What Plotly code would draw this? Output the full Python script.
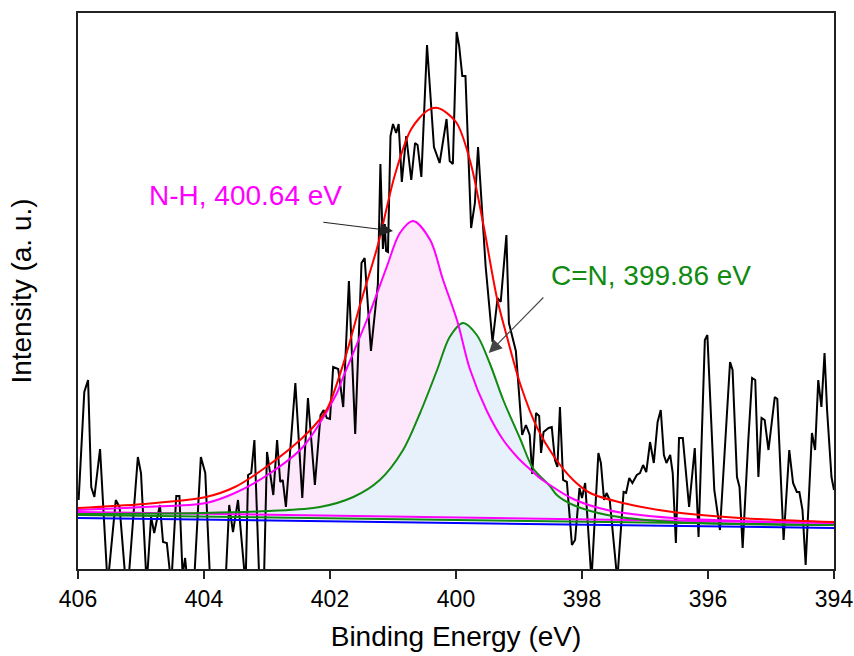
import plotly.graph_objects as go

# ---------------- data ----------------
raw_e = [405.99, 405.90, 405.84, 405.79, 405.74, 405.65, 405.53, 405.40, 405.34, 405.24,
         405.21, 405.05, 405.00, 404.91, 404.84, 404.79, 404.70, 404.65, 404.59, 404.52,
         404.44, 404.39, 404.34, 404.30, 404.25, 404.16, 404.05, 403.98, 403.90, 403.79,
         403.66, 403.60, 403.54, 403.46, 403.34, 403.30, 403.25, 403.20, 403.12, 403.05,
         403.00, 402.90, 402.84, 402.79, 402.75, 402.70, 402.55, 402.44, 402.35, 402.24,
         402.15, 402.10, 402.05, 402.00, 401.95, 401.87, 401.79, 401.70, 401.60, 401.50,
         401.45, 401.35, 401.24, 401.20, 401.16, 401.13, 401.11, 401.08, 401.04, 401.00,
         400.95, 400.91, 400.86, 400.79, 400.71, 400.65, 400.61, 400.55, 400.46, 400.35,
         400.26, 400.15, 400.10, 400.05, 399.99, 399.95, 399.90, 399.85, 399.76, 399.70,
         399.65, 399.53, 399.42, 399.34, 399.29, 399.20, 399.16, 399.05, 398.95, 398.89,
         398.83, 398.79, 398.73, 398.68, 398.65, 398.61, 398.53, 398.48, 398.43, 398.39,
         398.35, 398.30, 398.24, 398.16, 398.11, 398.04, 398.00, 397.95, 397.85, 397.74,
         397.70, 397.65, 397.61, 397.56, 397.44, 397.34, 397.30, 397.25, 397.20, 397.13,
         397.08, 397.03, 396.98, 396.92, 396.86, 396.80, 396.75, 396.70, 396.66, 396.60,
         396.56, 396.51, 396.46, 396.40, 396.30, 396.21, 396.15, 396.05, 396.01, 395.90,
         395.81, 395.65, 395.61, 395.54, 395.50, 395.45, 395.36, 395.30, 395.25, 395.20,
         395.15, 395.10, 395.04, 394.94, 394.90, 394.80, 394.71, 394.65, 394.59, 394.55,
         394.50, 394.45, 394.35, 394.30, 394.25, 394.20, 394.15, 394.11, 394.04, 394.00]
raw_i = [69, 177, 189, 82, 72, 120, -16, 69, 62, -16,
         -21, 112, 96, -16, 52, 36, 64, 27, 26, -16,
         73, 73, -6, 11, -21, -16, 112, 96, -16, -26,
         -16, 64, 37, 69, -16, 94, 96, 129, -16, -16,
         117, 74, 129, 87, 89, 62, 186, 71, 171, 84,
         154, 159, 151, 150, 202, 200, 162, 288, 135, 306,
         311, 218, 285, 405, 320, 345, 318, 317, 433, 445,
         436, 445, 387, 433, 389, 426, 424, 392, 524, 422,
         406, 450, 408, 405, 537, 523, 493, 493, 341, 366,
         422, 303, 227, 271, 267, 334, 246, 218, 134, 144,
         134, 95, 156, 153, 116, 137, 141, 142, 109, 102,
         162, 89, 87, 24, 29, 81, 71, 86, -11, 116,
         106, 69, 76, 69, -11, 77, 76, 91, 86, 94,
         96, 104, 97, 127, 106, 147, 159, 114, 106, 114,
         96, 26, 131, 131, 62, 121, 32, 229, 234, 79,
         39, 207, 199, 92, 82, 21, 129, 191, 189, 92,
         151, 149, 119, 172, 170, 29, 119, 86, 77, 77,
         59, 4, 136, 119, 189, 162, 216, 159, 92, 79]

env_e = [406.00, 404.97, 403.97, 403.51, 402.97, 402.44, 402.17, 402.03, 401.76, 401.51,
         401.24, 400.97, 400.71, 400.44, 400.29, 400.00, 399.78, 399.57, 399.35, 399.19,
         398.97, 398.71, 398.44, 398.14, 397.87, 397.35, 396.56, 395.49, 394.00]
env_i = [61, 65, 72, 82, 104, 131, 149, 162, 211, 267,
         324, 394, 440, 459, 461, 447, 409, 346, 271, 232,
         183, 141, 112, 89, 76, 66, 57, 51, 47]

nh_e = [406.00, 404.97, 403.97, 403.51, 402.97, 402.43, 401.89, 401.81, 401.37, 401.10,
        400.89, 400.68, 400.41, 400.21, 399.98, 399.78, 399.51, 399.25, 399.00, 398.83,
        398.67, 398.51, 398.14, 397.60, 396.56, 394.00]
nh_i = [59, 62, 66, 76, 95, 122, 176, 189, 256, 302,
        336, 348, 329, 290, 248, 200, 158, 129, 110, 100,
        91, 84, 70, 59, 51, 46]

cn_e = [406.00, 404.03, 402.97, 402.16, 401.63, 401.21, 400.84, 400.57, 400.30, 400.10,
        399.89, 399.67, 399.46, 399.25, 398.98, 398.78, 398.51, 398.40, 398.14, 397.60,
        396.56, 394.00]
cn_i = [55, 56, 58, 62, 72, 89, 119, 156, 199, 232,
        246, 234, 205, 169, 130, 101, 83, 74, 64, 54,
        47, 44]

base_e = [406.0, 394.0]
bg_i = [51, 41]        # blue background
nh_base_i = [57, 46]   # N-H component baseline
cn_base_i = [54, 44]   # C=N component baseline

tick_vals = [406, 404, 402, 400, 398, 396, 394]
tick_text = ["406", "404", "402", "400", "398", "396", "394"]

nh_label = "N-H, 400.64 eV"
cn_label = "C=N, 399.86 eV"

# ---------------- figure ----------------
FONT = "Arial, 'Liberation Sans', sans-serif"
MAG = "#ff00ff"
GRN = "#108a10"
SM = 0.9

fig = go.Figure()

# fills (drawn first, no lines)
fig.add_trace(go.Scatter(x=base_e, y=nh_base_i, mode="lines", line=dict(width=0),
                         showlegend=False, hoverinfo="skip"))
fig.add_trace(go.Scatter(x=nh_e, y=nh_i, mode="lines", line=dict(width=0, shape="spline", smoothing=SM),
                         fill="tonexty", fillcolor="#fde8fb", showlegend=False, hoverinfo="skip"))
fig.add_trace(go.Scatter(x=base_e, y=cn_base_i, mode="lines", line=dict(width=0),
                         showlegend=False, hoverinfo="skip"))
fig.add_trace(go.Scatter(x=cn_e, y=cn_i, mode="lines", line=dict(width=0, shape="spline", smoothing=SM),
                         fill="tonexty", fillcolor="#e7f1fb", showlegend=False, hoverinfo="skip"))

# raw spectrum
fig.add_trace(go.Scatter(x=raw_e, y=raw_i, mode="lines", line=dict(color="black", width=2),
                         showlegend=False))

# baselines and components
fig.add_trace(go.Scatter(x=base_e, y=bg_i, mode="lines", line=dict(color="#0000ff", width=2),
                         showlegend=False))
fig.add_trace(go.Scatter(x=base_e, y=cn_base_i, mode="lines", line=dict(color=GRN, width=2),
                         showlegend=False))
fig.add_trace(go.Scatter(x=base_e, y=nh_base_i, mode="lines", line=dict(color=MAG, width=2),
                         showlegend=False))
fig.add_trace(go.Scatter(x=cn_e, y=cn_i, mode="lines",
                         line=dict(color=GRN, width=2, shape="spline", smoothing=SM), showlegend=False))
fig.add_trace(go.Scatter(x=nh_e, y=nh_i, mode="lines",
                         line=dict(color=MAG, width=2, shape="spline", smoothing=SM), showlegend=False))
fig.add_trace(go.Scatter(x=env_e, y=env_i, mode="lines",
                         line=dict(color="#ff0000", width=2, shape="spline", smoothing=SM), showlegend=False))

# labels and arrows
fig.add_annotation(x=403.34, y=374, text=nh_label, showarrow=False, xref="x", yref="y",
                   font=dict(family=FONT, size=28, color=MAG))
fig.add_annotation(x=396.90, y=294, text=cn_label, showarrow=False, xref="x", yref="y",
                   font=dict(family=FONT, size=28, color=GRN))
fig.add_annotation(x=401.0, y=338, ax=402.13, ay=347, xref="x", yref="y", axref="x", ayref="y",
                   text="", showarrow=True, arrowhead=2, arrowsize=2.4, arrowwidth=1.1,
                   arrowcolor="#222222")
fig.add_annotation(x=399.48, y=216, ax=398.59, ay=273, xref="x", yref="y", axref="x", ayref="y",
                   text="", showarrow=True, arrowhead=2, arrowsize=2.4, arrowwidth=1.1,
                   arrowcolor="#444444")

fig.update_layout(
    width=854, height=656,
    margin=dict(l=78, r=20, t=13, b=87),
    paper_bgcolor="white", plot_bgcolor="white",
    font=dict(family=FONT, color="black"),
    showlegend=False,
)
fig.update_xaxes(
    range=[406, 394], tickmode="array", tickvals=tick_vals, ticktext=tick_text,
    ticks="outside", ticklen=8, tickwidth=2, tickcolor="#222222",
    showline=True, linewidth=2, linecolor="#222222", mirror=True,
    showgrid=False, zeroline=False, automargin=False,
    tickfont=dict(family=FONT, size=23, color="black"),
    title=dict(text="Binding Energy (eV)", font=dict(family=FONT, size=28, color="black"), standoff=16),
)
fig.update_yaxes(
    range=[0, 556], showticklabels=False, ticks="",
    showline=True, linewidth=2, linecolor="#222222", mirror=True,
    showgrid=False, zeroline=False, automargin=False,
    title=dict(text="Intensity (a. u.)", font=dict(family=FONT, size=28, color="black"), standoff=36),
)

fig.write_html("out.html")
